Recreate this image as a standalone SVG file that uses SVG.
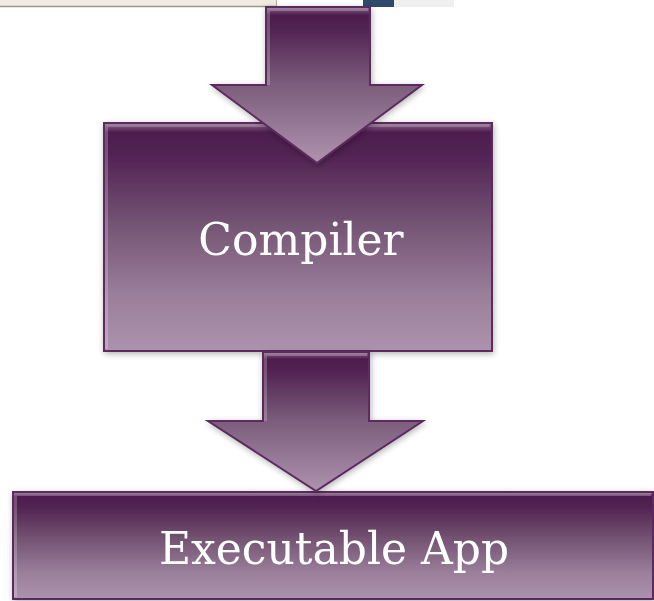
<svg xmlns="http://www.w3.org/2000/svg" width="654" height="601" viewBox="0 0 654 601">
<style>
.box{stroke:#5d2b60;stroke-width:2}
.lbl{font-family:"DejaVu Serif","Liberation Serif",serif;font-size:44px;fill:#ffffff;text-anchor:middle}
.bev{fill:none;stroke:#ffffff;stroke-opacity:0.22;stroke-width:3}
</style>
<defs>
<linearGradient id="gBox" x1="0" y1="0" x2="0" y2="1">
<stop offset="0" stop-color="#8d6a8e"/>
<stop offset="0.04" stop-color="#501f51"/>
<stop offset="0.12" stop-color="#4f2050"/>
<stop offset="0.45" stop-color="#755574"/>
<stop offset="0.75" stop-color="#9a7e9a"/>
<stop offset="1" stop-color="#ad92ad"/>
</linearGradient>
<linearGradient id="gArrow" x1="0" y1="0" x2="0" y2="1">
<stop offset="0" stop-color="#8d6a8e"/>
<stop offset="0.05" stop-color="#4f1f50"/>
<stop offset="0.12" stop-color="#4f2050"/>
<stop offset="0.5" stop-color="#7c5e7c"/>
<stop offset="1" stop-color="#ae92ae"/>
</linearGradient>
<filter id="sh" x="-10%" y="-10%" width="120%" height="120%">
<feGaussianBlur in="SourceAlpha" stdDeviation="3"/>
<feOffset dx="1" dy="2"/>
<feComponentTransfer><feFuncA type="linear" slope="0.3"/></feComponentTransfer>
<feMerge><feMergeNode/><feMergeNode in="SourceGraphic"/></feMerge>
</filter>
</defs>
<rect width="654" height="601" fill="#ffffff"/>
<g id="top-strip">
<rect x="0" y="0" width="277" height="6" fill="#efebe2"/>
<line x1="0" y1="6.5" x2="277" y2="6.5" stroke="#9c9684" stroke-width="1.5"/>
<line x1="276.5" y1="0" x2="276.5" y2="7" stroke="#b7b09e" stroke-width="1"/>
<rect x="363" y="0" width="31" height="7" fill="#2e4a6c"/>
<rect x="394" y="0" width="60" height="7" fill="#efefef"/>
</g>
<g id="compiler" filter="url(#sh)">
<rect class="box" x="104" y="123" width="388" height="228" fill="url(#gBox)"/>
<path class="bev" d="M106.5 349 V125.5 H489.5"/>
<text class="lbl" x="301" y="255">Compiler</text>
</g>
<g id="executable-app" filter="url(#sh)">
<rect class="box" x="13" y="492" width="640" height="107" fill="url(#gBox)"/>
<path class="bev" d="M15.5 597 V494.5 H651"/>
<text class="lbl" x="334" y="564">Executable App</text>
</g>
<g id="connectors">
<g filter="url(#sh)">
<path class="box" d="M266 7 H370 V85 H422 L317 163 L212 85 H266 Z" fill="url(#gArrow)"/>
<path class="bev" d="M268.5 85 V9.5 H368"/>
</g>
<g filter="url(#sh)">
<path class="box" d="M263 352 H369 V421 H423 L316 491 L208 421 H263 Z" fill="url(#gArrow)"/>
<path class="bev" d="M265.5 421 V354.5 H367"/>
</g>
</g>
</svg>
